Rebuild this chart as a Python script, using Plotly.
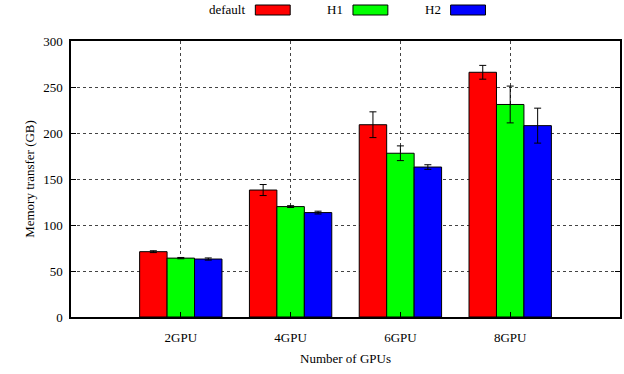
import plotly.graph_objects as go

categories = ["2GPU", "4GPU", "6GPU", "8GPU"]
series_names = ["default", "H1", "H2"]
default_vals = [71, 138, 209, 266]
default_err = [1, 6, 14, 7.5]
h1_vals = [64, 120, 178, 231]
h1_err = [0.7, 1, 8, 20]
h2_vals = [63, 113.5, 163, 208]
h2_err = [1.2, 1.5, 2.5, 19]
colors = ["#ff0000", "#00ff00", "#0000ff"]
y_ticks = [0, 50, 100, 150, 200, 250, 300]

values = [default_vals, h1_vals, h2_vals]
errors = [default_err, h1_err, h2_err]

FONT = "Times New Roman, Times, serif"
W, H = 624, 374
ML, MR, MT, MB = 71, 2, 41, 57
plot_w = W - ML - MR
plot_h = H - MT - MB

fig = go.Figure()
for name, vals, errs, col in zip(series_names, values, errors, colors):
    fig.add_trace(go.Bar(
        x=list(range(len(categories))), y=vals, name=name,
        marker=dict(color=col, line=dict(color="black", width=1)),
        error_y=dict(type="data", array=errs, color="black", thickness=1, width=3.5),
        showlegend=False,
    ))

# custom gnuplot-style legend: text to the left of the swatch
def to_px_x(px):
    return (px - ML) / plot_w

def to_px_y(py):
    return 1 + (MT - py) / plot_h

shapes = []
annotations = []
first_text_right = 248
step = 98
for i, (name, col) in enumerate(zip(series_names, colors)):
    tr = first_text_right + i * step
    sx0 = tr + 8
    sx1 = sx0 + 35
    annotations.append(dict(
        text=name, x=to_px_x(tr), y=to_px_y(10), xref="paper", yref="paper",
        xanchor="right", yanchor="middle", showarrow=False,
        font=dict(family=FONT, size=13, color="black"),
    ))
    shapes.append(dict(type="rect", xref="paper", yref="paper",
                       x0=to_px_x(sx0), x1=to_px_x(sx1),
                       y0=to_px_y(15), y1=to_px_y(5),
                       fillcolor=col, line=dict(color="black", width=1)))

fig.update_layout(
    width=W, height=H,
    margin=dict(l=ML, r=MR, t=MT, b=MB),
    paper_bgcolor="white", plot_bgcolor="white",
    barmode="group", bargap=0.25, bargroupgap=0,
    font=dict(family=FONT, size=13, color="black"),
    shapes=shapes, annotations=annotations,
    xaxis=dict(
        range=[-1, len(categories)], tickmode="array",
        tickvals=list(range(len(categories))), ticktext=categories,
        tickfont=dict(family=FONT, size=13),
        showgrid=True, gridcolor="#444444", griddash="dot", gridwidth=1,
        showline=True, linecolor="black", linewidth=1.5, mirror=True,
        ticks="inside", ticklen=5, tickcolor="black",
        ticklabelstandoff=8,
        title=dict(text="Number of GPUs", standoff=10,
                   font=dict(family=FONT, size=13)),
        zeroline=False,
    ),
    yaxis=dict(
        range=[0, 300], tickmode="array", tickvals=y_ticks,
        tickfont=dict(family=FONT, size=13),
        showgrid=True, gridcolor="#444444", griddash="dot", gridwidth=1,
        showline=True, linecolor="black", linewidth=1.5, mirror="ticks",
        ticks="inside", ticklen=5, tickcolor="black",
        ticklabelstandoff=4,
        title=dict(text="Memory transfer (GB)", standoff=6,
                   font=dict(family=FONT, size=13)),
        zeroline=False,
    ),
)

fig.write_html("out.html")
